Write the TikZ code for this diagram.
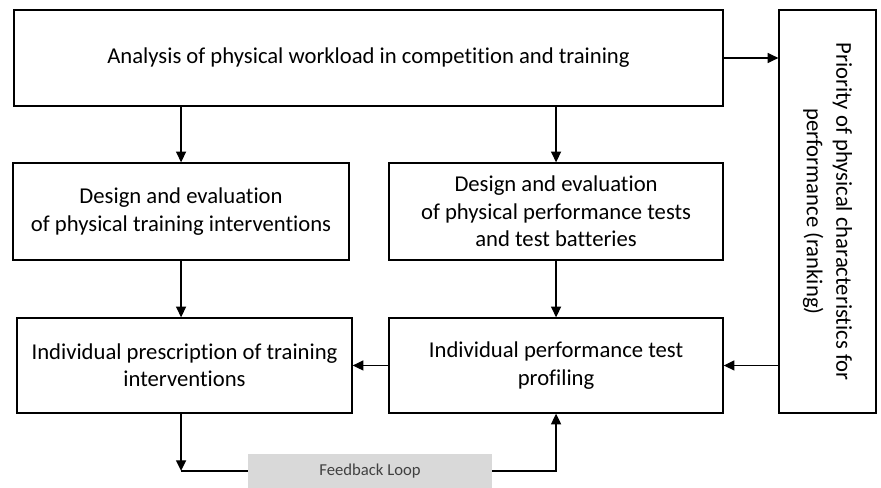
\documentclass[tikz,border=0pt]{standalone}
\usepackage{fontspec}
\setmainfont[Ligatures=NoCommon]{Carlito}
\usetikzlibrary{arrows.meta}
\begin{document}
\begin{tikzpicture}[
  block/.style={rectangle, draw, line width=1pt, align=center, font=\fontsize{17}{20.5}\selectfont, inner sep=0pt},
  link/.style={-{Triangle[length=8pt,width=7.5pt]}, line width=1pt},
  node distance=115pt
]
\useasboundingbox (0,0) rectangle (660.75pt,-366pt);

\node[block, minimum width=531.75pt, minimum height=72pt] (analysis) at (276.4pt,-43.5pt) {Analysis of physical workload in competition and training};
\node[block, below of=analysis, node distance=115.1pt, xshift=-140.6pt, minimum width=252pt, minimum height=72.75pt] (training) {Design and evaluation\\of physical training interventions};
\node[block, right of=training, node distance=281.25pt, minimum width=250.5pt, minimum height=72.75pt] (tests) {Design and evaluation\\of physical performance tests\\and test batteries};
\node[block, below of=training, node distance=115.5pt, xshift=2.6pt, minimum width=251.25pt, minimum height=71.25pt] (prescription) {Individual prescription of training\\interventions};
\node[block, below of=tests, node distance=115.5pt, minimum width=250.5pt, minimum height=71.25pt] (profiling) {Individual performance test\\profiling};
\node[block, right of=tests, node distance=203.6pt, minimum width=72.75pt, minimum height=302.25pt] (priority) {};
\node[rotate=-90, align=center, font=\fontsize{17}{22}\selectfont] (prioritytext) at (priority) {Priority of physical characteristics for\\performance (ranking)};
\node[below of=prescription, node distance=79.1pt, xshift=139.1pt, fill=black!15, minimum width=183pt, minimum height=25.5pt, inner sep=0pt, text=black!75, font=\fontsize{12.5}{14}\selectfont] (feedback) {Feedback Loop};

\draw[link] (training.north |- analysis.south) -- (training.north);
\draw[link] (analysis.south -| tests.north) -- (tests.north);
\draw[link] (analysis.east) -- (analysis.east -| priority.west);
\draw[link] (training.south) -- (training.south |- prescription.north);
\draw[link] (tests.south) -- (profiling.north);
\draw[link] (priority.west |- profiling.east) -- (profiling.east);
\draw[link] (profiling.west) -- (prescription.east);
\draw[link] (prescription.south -| training.south) -- (training.south |- feedback.west);
\draw[line width=1pt] (training.south |- feedback.west) -- (feedback.west);
\draw[link] (feedback.east) -| (profiling.south);
\end{tikzpicture}
\end{document}
